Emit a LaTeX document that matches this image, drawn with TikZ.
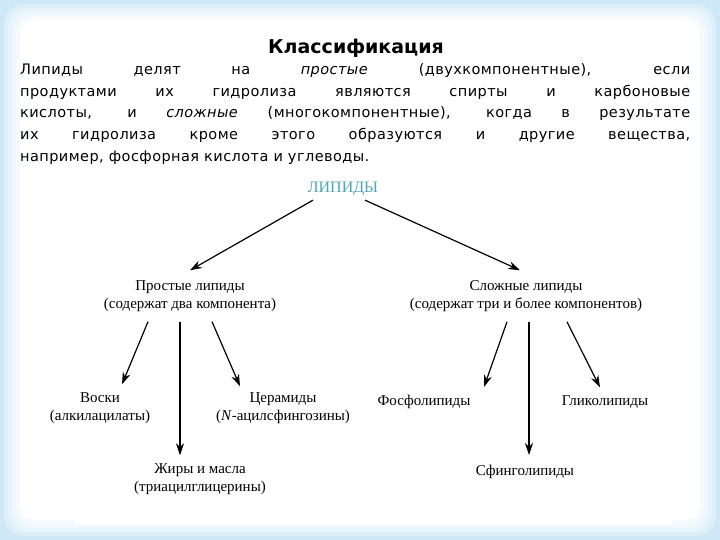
\documentclass[tikz,border=0pt]{standalone}
\usepackage{fontspec}
\setmainfont{Liberation Serif}
\newfontfamily\bodyfont[LetterSpace=3]{DejaVu Sans}
\newfontfamily\titlefont{DejaVu Sans}
\usetikzlibrary{arrows.meta}
\definecolor{bgblue}{HTML}{CFE8F7}
\definecolor{teal}{HTML}{4AA6B8}
\tikzset{
 lbl/.style={font=\fontsize{15}{18}\selectfont, align=center, inner sep=0pt},
 arr/.style={-{Stealth[length=12pt,width=8pt]}, line width=1.2pt}
}
\begin{document}
\begin{tikzpicture}[x=1pt,y=-1pt]
\useasboundingbox (0,0) rectangle (720,540);
\fill[bgblue] (0,0) rectangle (720,540);
\foreach \i/\c in {0/30,1/50,2/70,3/85,4/100}{
 \fill[white!\c!bgblue, rounded corners=20pt] (4+\i*4,4+\i*4) rectangle (716-\i*4,536-\i*4);}
\fill[white] (22,22) rectangle (698,518);
\fill[white] (75,178) rectangle (672,525);
\node[font=\titlefont\bfseries\fontsize{19}{22}\selectfont] (title) at (356,48) {Классификация};
\node[font=\bodyfont\fontsize{14.5}{21.8}\selectfont, text width=670pt, align=justify, inner sep=0pt, anchor=north west] (body) at (20,63)
{Липиды делят на \textit{простые} (двухкомпонентные), если\linebreak продуктами их гидролиза являются спирты и карбоновые\linebreak кислоты, и \textit{сложные} (многокомпонентные), когда в результате\linebreak их гидролиза кроме этого образуются и другие вещества,\linebreak например, фосфорная кислота и углеводы.};
\node[lbl, text=teal, font=\fontsize{16}{18}\selectfont] (lip) at (343,189) {ЛИПИДЫ};
\node[lbl] (pr) at (190,296) {Простые липиды\\(содержат два компонента)};
\node[lbl] (sl) at (526,296) {Сложные липиды\\(содержат три и более компонентов)};
\node[lbl] (vo) at (100,408) {Воски\\(алкилацилаты)};
\node[lbl] (ce) at (283,408) {Церамиды\\(\textit{N}-ацилсфингозины)};
\node[lbl] (zh) at (200,479) {Жиры и масла\\(триацилглицерины)};
\node[lbl] (fo) at (424,402) {Фосфолипиды};
\node[lbl] (gl) at (605,402) {Гликолипиды};
\node[lbl] (sf) at (525,472) {Сфинголипиды};
\draw[arr] ([xshift=-30pt,yshift=-4pt]lip.south) -- ([yshift=10pt]pr.north);
\draw[arr] ([xshift=22pt,yshift=-4pt]lip.south) -- ([xshift=-6pt,yshift=10pt]sl.north);
\draw[arr] ([xshift=-42pt,yshift=-10pt]pr.south) -- ([xshift=22pt,yshift=8pt]vo.north);
\draw[arr] ([xshift=-10pt,yshift=-10pt]pr.south) -- ([xshift=-20pt,yshift=8pt]zh.north);
\draw[arr] ([xshift=22pt,yshift=-10pt]pr.south) -- ([xshift=-43pt,yshift=6pt]ce.north);
\draw[arr] ([xshift=-19pt,yshift=-10pt]sl.south) -- ([xshift=60pt,yshift=8pt]fo.north);
\draw[arr] ([xshift=3pt,yshift=-10pt]sl.south) -- ([xshift=4pt,yshift=10pt]sf.north);
\draw[arr] ([xshift=41pt,yshift=-10pt]sl.south) -- ([xshift=-5pt,yshift=8pt]gl.north);
\end{tikzpicture}
\end{document}
